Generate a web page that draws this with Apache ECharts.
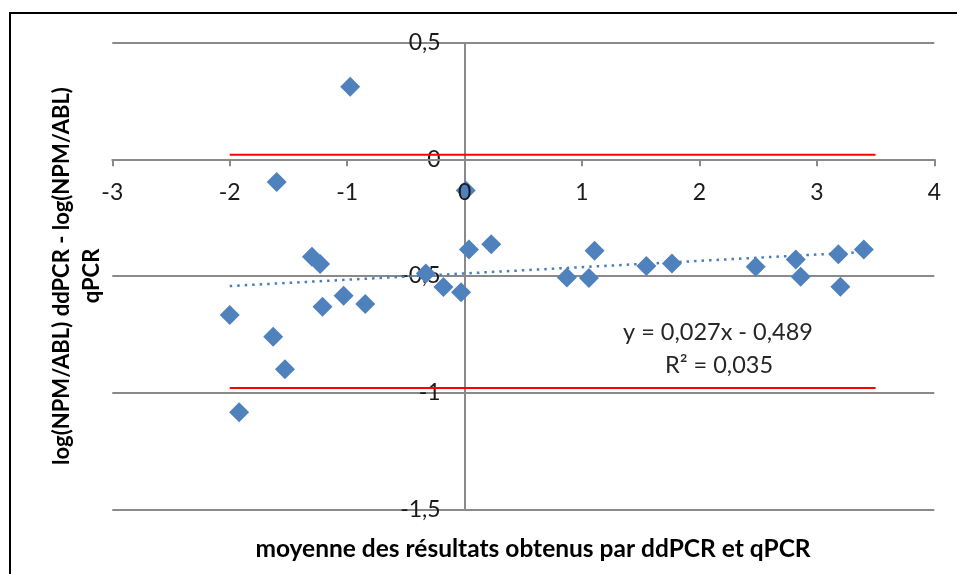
<!DOCTYPE html>
<html>
<head>
<meta charset="utf-8">
<script src="https://cdn.jsdelivr.net/npm/echarts@6/dist/echarts.min.js"></script>
<style>
  html, body { margin: 0; padding: 0; background: #fff; }
  #chart { width: 957px; height: 574px; }
</style>
</head>
<body>
<div id="chart"></div>
<script>
// Mean of ddPCR and qPCR results (x) and difference of log ratios (y)
const meanValues = [-2.00, -1.92, -1.63, -1.60, -1.53, -1.30, -1.23, -1.21, -1.03, -0.974,
  -0.846, -0.33, -0.18, -0.03, 0.01, 0.037, 0.227, 0.871, 1.059, 1.107,
  1.548, 1.766, 2.479, 2.82, 2.862, 3.183, 3.20, 3.40];
const diffValues = [-0.667, -1.084, -0.760, -0.097, -0.900, -0.417, -0.449, -0.632, -0.585, 0.311,
  -0.620, -0.489, -0.547, -0.570, -0.134, -0.386, -0.364, -0.506, -0.509, -0.392,
  -0.457, -0.446, -0.460, -0.429, -0.503, -0.407, -0.546, -0.386];

// Limits of agreement (upper / lower) and their x extent
const upperLimit = 0.02;
const lowerLimit = -0.98;
const limitRange = [-2, 3.5];

// Linear trend line y = slope * x + intercept over the data range
const trendSlope = 0.027;
const trendIntercept = -0.489;
const trendR2 = 0.035;
const trendRange = [-2.00, 3.40];

// Axis settings
const xTicks = [-3, -2, -1, 0, 1, 2, 3, 4];
const yTicks = [-1.5, -1, -0.5, 0, 0.5];

const fr = v => String(v).replace('.', ',');
const fmt3 = v => v.toFixed(3).replace('.', ',');

const points = meanValues.map((x, i) => [x, diffValues[i]]);
const trendData = trendRange.map(x => [x, trendSlope * x + trendIntercept]);
const eqText = 'y = ' + fmt3(trendSlope) + 'x - ' + fmt3(Math.abs(trendIntercept));
const r2Text = 'R² = ' + fmt3(trendR2);

const gray = '#8a8a8a';
const FONT = 'Lato, "Open Sans", sans-serif';

const chart = echarts.init(document.getElementById('chart'), null, { renderer: 'canvas' });
chart.setOption({
  animation: false,
  backgroundColor: '#fff',
  grid: { left: 112.3, right: 22.7, top: 42.7, bottom: 64.7 },
  xAxis: {
    type: 'value', z: 6,
    min: xTicks[0], max: xTicks[xTicks.length - 1], interval: 1,
    axisLine: { show: true, onZero: false, lineStyle: { color: gray, width: 2 } },
    axisTick: { show: true, length: 7, lineStyle: { color: gray, width: 2 } },
    axisLabel: { fontFamily: FONT, fontSize: 23, color: '#1a1a1a', margin: 22, formatter: fr },
    splitLine: { show: false }
  },
  yAxis: {
    type: 'value',
    min: yTicks[0], max: yTicks[yTicks.length - 1], interval: 0.5,
    axisLine: { show: true, onZero: false, lineStyle: { color: gray, width: 2 } },
    axisTick: { show: false },
    axisLabel: { fontFamily: FONT, fontSize: 23, color: '#1a1a1a', margin: 24, formatter: fr },
    splitLine: { show: true, lineStyle: { color: gray, width: 2 } }
  },
  series: [
    {
      name: 'limite haute', type: 'line', silent: true, symbol: 'none',
      data: limitRange.map(x => [x, upperLimit]),
      lineStyle: { color: '#ff0000', width: 2 }, z: 3
    },
    {
      name: 'limite basse', type: 'line', silent: true, symbol: 'none',
      data: limitRange.map(x => [x, lowerLimit]),
      lineStyle: { color: '#ff0000', width: 2 }, z: 3
    },
    {
      name: 'tendance', type: 'line', silent: true, symbol: 'none',
      data: trendData,
      lineStyle: { color: '#4a7ebb', width: 2.5, type: [2.5, 5], cap: 'butt' }, z: 4
    },
    {
      name: 'différence', type: 'scatter',
      symbol: 'diamond', symbolSize: 20,
      itemStyle: { color: '#4f81bd', opacity: 1 },
      data: points, z: 5
    }
  ],
  graphic: [
    {
      type: 'polyline', silent: true,
      shape: { points: [[10, 600], [10, 13], [980, 13]] },
      style: { stroke: '#000', lineWidth: 2, fill: null }
    },
    {
      type: 'text', silent: true, x: 533, y: 549,
      style: {
        text: 'moyenne des résultats obtenus par ddPCR et qPCR',
        fontFamily: FONT, fontSize: 24.5, fontWeight: 'bold', fill: '#000',
        align: 'center', verticalAlign: 'middle'
      }
    },
    {
      type: 'text', silent: true, x: 77, y: 276, rotation: Math.PI / 2,
      style: {
        text: 'log(NPM/ABL) ddPCR - log(NPM/ABL)\nqPCR',
        fontFamily: FONT, fontSize: 22, fontWeight: 'bold', fill: '#000',
        align: 'center', verticalAlign: 'middle', lineHeight: 30
      }
    },
    {
      type: 'text', silent: true, x: 718, y: 332,
      style: {
        text: eqText, fontFamily: FONT, fontSize: 23.5, fill: '#262626',
        align: 'center', verticalAlign: 'middle'
      }
    },
    {
      type: 'text', silent: true, x: 719, y: 365,
      style: {
        text: r2Text, fontFamily: FONT, fontSize: 23.5, fill: '#262626',
        align: 'center', verticalAlign: 'middle'
      }
    }
  ]
});

// Axes cross at the origin: shift each axis line to the other axis's zero
const gridRect = chart.getModel().getComponent('grid').coordinateSystem.getRect();
const zeroX = chart.convertToPixel({ xAxisIndex: 0 }, 0);
const zeroY = chart.convertToPixel({ yAxisIndex: 0 }, 0);
chart.setOption({
  xAxis: { offset: zeroY - (gridRect.y + gridRect.height) },
  yAxis: { offset: gridRect.x - zeroX }
});
</script>
</body>
</html>
